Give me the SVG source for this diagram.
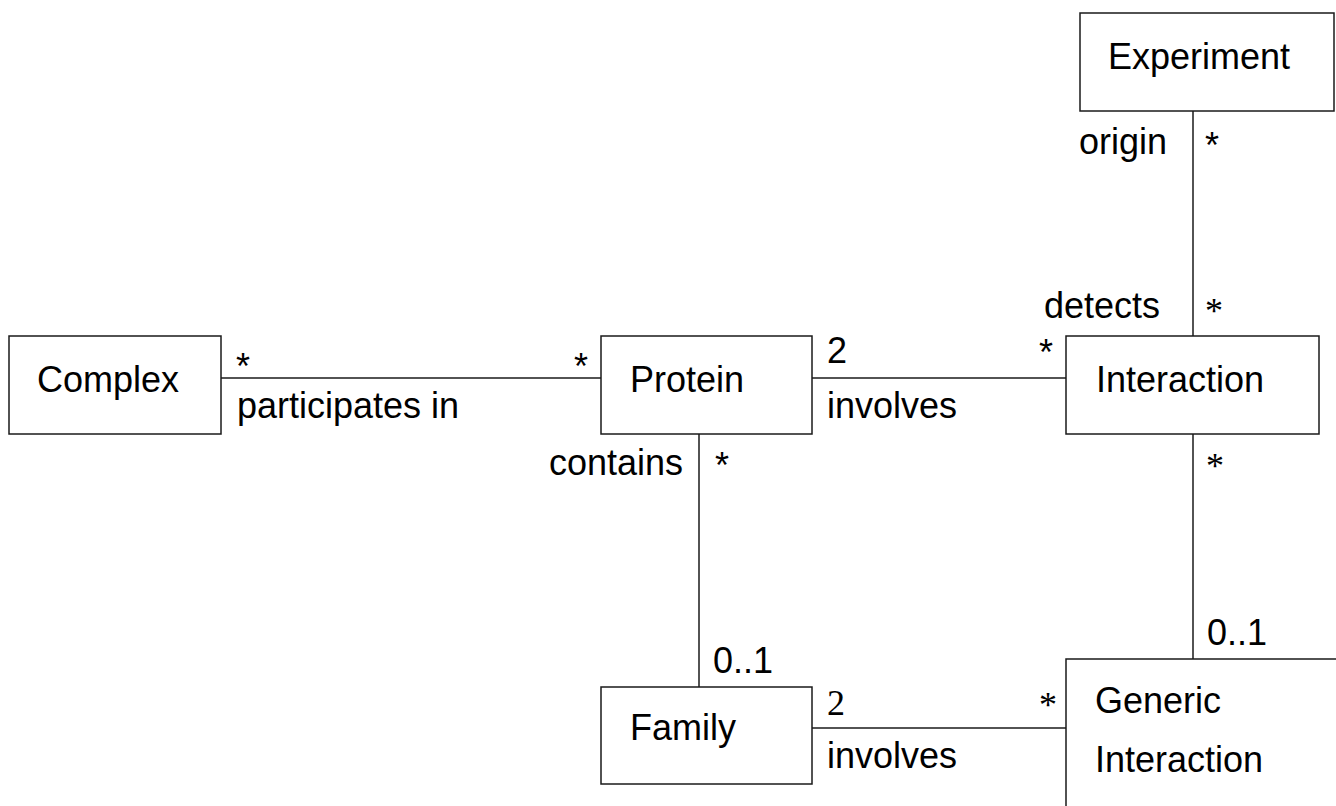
<svg xmlns="http://www.w3.org/2000/svg" width="1336" height="806" viewBox="0 0 1336 806">
<style>
.box{fill:#fff;stroke:#1a1a1a;stroke-width:1.5}
.ln{stroke:#1a1a1a;stroke-width:1.5;fill:none}
text{font-family:"Liberation Sans",Arial,sans-serif;font-size:36px;fill:#000}
.sf{font-family:"Liberation Serif","Times New Roman",serif}
.end{text-anchor:end}
</style>
<rect width="1336" height="806" fill="#fff"/>
<g id="connectors">
<line class="ln" x1="1193" y1="111" x2="1193" y2="336"/>
<line class="ln" x1="221" y1="378" x2="601" y2="378"/>
<line class="ln" x1="812" y1="378" x2="1066" y2="378"/>
<line class="ln" x1="699" y1="434" x2="699" y2="687"/>
<line class="ln" x1="1193" y1="434" x2="1193" y2="659"/>
<line class="ln" x1="812" y1="728" x2="1066" y2="728"/>
<text x="1167" y="154" class="end">origin</text>
<text x="1205" y="158">*</text>
<text x="1160" y="318" class="end">detects</text>
<text x="1205" y="323" class="sf">*</text>
<text x="236" y="379">*</text>
<text x="237" y="418">participates in</text>
<text x="574" y="379">*</text>
<text x="827" y="363">2</text>
<text x="827" y="418">involves</text>
<text x="1039" y="365">*</text>
<text x="683" y="475" class="end">contains</text>
<text x="715" y="478">*</text>
<text x="713" y="673">0..1</text>
<text x="1206" y="478" class="sf">*</text>
<text x="1207" y="645">0..1</text>
<text x="827" y="715" class="sf">2</text>
<text x="827" y="768">involves</text>
<text x="1039" y="717" class="sf">*</text>
</g>
<g id="experiment">
<rect class="box" x="1080" y="13" width="254" height="98"/>
<text x="1108" y="69">Experiment</text>
</g>
<g id="complex">
<rect class="box" x="9" y="336" width="212" height="98"/>
<text x="37" y="392">Complex</text>
</g>
<g id="protein">
<rect class="box" x="601" y="336" width="211" height="98"/>
<text x="630" y="392">Protein</text>
</g>
<g id="interaction">
<rect class="box" x="1066" y="336" width="253" height="98"/>
<text x="1096" y="392">Interaction</text>
</g>
<g id="family">
<rect class="box" x="601" y="687" width="211" height="97"/>
<text x="630" y="740">Family</text>
</g>
<g id="generic-interaction">
<rect class="box" x="1066" y="659" width="300" height="200"/>
<text x="1095" y="713">Generic</text>
<text x="1095" y="772">Interaction</text>
</g>
</svg>
